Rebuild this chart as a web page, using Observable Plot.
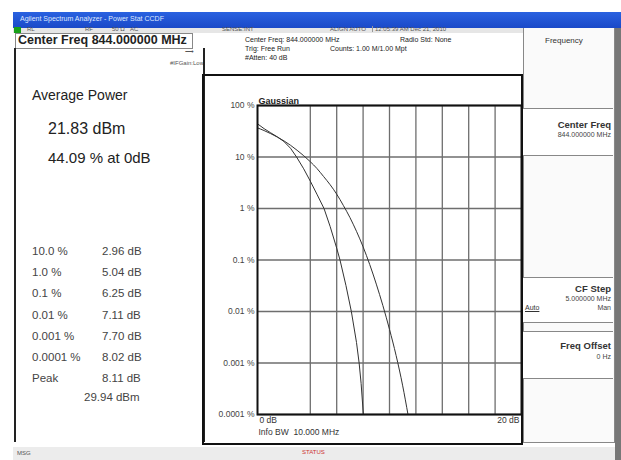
<!DOCTYPE html>
<html>
<head>
<meta charset="utf-8">
<script src="https://cdn.jsdelivr.net/npm/d3@7"></script>
<script src="https://cdn.jsdelivr.net/npm/@observablehq/plot@0.6"></script>
<style>
  html, body { margin: 0; padding: 0; background: #fff; }
  #root { position: relative; width: 621px; height: 460px; overflow: hidden; background: #fff;
          font-family: "Liberation Sans", Arial, sans-serif; color: #222; }
  .abs { position: absolute; white-space: nowrap; }
  .tiny { font-size: 6px; color: #555; }
  .info { font-size: 7px; color: #222; }
  .row { font-size: 11.5px; color: #444; }
  .key { position: absolute; left: 523px; width: 90px; border-top: 1px solid #888; border-bottom: 1px solid #888; background: #fff; }
  .keyT { position: absolute; right: 2px; font-size: 9.5px; font-weight: bold; color: #333; }
  .keyS { position: absolute; right: 2px; font-size: 7px; color: #444; }
</style>
</head>
<body>
<div id="root">
  <!-- title bar -->
  <div class="abs" style="left:13px;top:12px;width:608px;height:16px;background:linear-gradient(#2a62e0,#1a49c8);"></div>
  <div class="abs" style="left:20px;top:15px;font-size:7px;color:#dfe8ff;">Agilent Spectrum Analyzer - Power Stat CCDF</div>
  <!-- status row -->
  <div class="abs" style="left:13px;top:28px;width:510px;height:5px;background:#e6e6e6;"></div>
  <div class="abs" style="left:14px;top:27px;width:7px;height:6px;background:#18a018;"></div>
  <div class="abs tiny" style="left:27px;top:26px;">RL</div>
  <div class="abs tiny" style="left:85px;top:26px;">RF</div>
  <div class="abs tiny" style="left:112px;top:26px;">50 Ω</div>
  <div class="abs tiny" style="left:130px;top:26px;">AC</div>
  <div class="abs tiny" style="left:222px;top:26px;">SENSE:INT</div>
  <div class="abs tiny" style="left:330px;top:26px;">ALIGN AUTO</div>
  <div class="abs tiny" style="left:372px;top:26px;border-left:1px solid #999;padding-left:2px;">12:05:39 AM Dec 21, 2010</div>
  <!-- right dark strip -->
  <div class="abs" style="left:615px;top:28px;width:6px;height:432px;background:#777;"></div>
  <!-- center freq box -->
  <div class="abs" style="left:15px;top:33px;width:176px;height:14px;border:1px solid #888;background:#fff;"></div>
  <div class="abs" style="left:18px;top:33px;font-size:12.5px;font-weight:bold;color:#222;">Center Freq 844.000000 MHz</div>
  <div class="abs tiny" style="left:185px;top:48px;">⟶</div>
  <div class="abs tiny" style="left:170px;top:60px;">#IFGain:Low</div>
  <!-- measurement header -->
  <div class="abs info" style="left:245px;top:36px;">Center Freq: 844.000000 MHz</div>
  <div class="abs info" style="left:245px;top:45px;">Trig: Free Run</div>
  <div class="abs info" style="left:245px;top:54px;">#Atten: 40 dB</div>
  <div class="abs info" style="left:330px;top:45px;">Counts: 1.00 M/1.00 Mpt</div>
  <div class="abs info" style="left:400px;top:36px;">Radio Std: None</div>
  <!-- left panel -->
  <div class="abs" style="left:14px;top:48px;width:187px;height:394px;border-left:2px solid #222;border-right:2px solid #222;"></div>
  <div class="abs" style="left:32px;top:87px;font-size:14px;color:#222;">Average Power</div>
  <div class="abs" style="left:48px;top:120px;font-size:16px;color:#222;">21.83 dBm</div>
  <div class="abs" style="left:48px;top:149px;font-size:15px;color:#222;">44.09 % at 0dB</div>
  <div id="table"></div>
  <!-- chart box -->
  <div class="abs" style="left:202px;top:74px;width:317px;height:367px;border:2px solid #111;"></div>
  <div id="chart" class="abs" style="left:202px;top:74px;"></div>
  <!-- softkeys -->
  <div class="abs" style="left:523px;top:28px;width:90px;height:414px;border-left:1px solid #888;border-right:1px solid #888;background:#fafafa;"></div>
  <div class="abs" style="left:545px;top:36px;font-size:8px;color:#333;">Frequency</div>
  <div class="key" style="top:108px;height:46px;"><div class="keyT" style="top:10px;">Center Freq</div><div class="keyS" style="top:22px;">844.000000 MHz</div></div>
  <div class="key" style="top:277px;height:44px;"><div class="keyT" style="top:5px;">CF Step</div><div class="keyS" style="top:17px;">5.000000 MHz</div>
    <div class="abs" style="left:2px;top:26px;font-size:7px;color:#333;text-decoration:underline;">Auto</div><div class="keyS" style="top:26px;">Man</div></div>
  <div class="key" style="top:331px;height:46px;"><div class="keyT" style="top:8px;">Freq Offset</div><div class="keyS" style="top:21px;">0 Hz</div></div>
  <div class="abs" style="left:523px;top:442px;width:92px;height:0;border-top:1px solid #888;"></div>
  <!-- bottom status -->
  <div class="abs" style="left:13px;top:447px;width:602px;height:13px;background:#ececec;"></div>
  <div class="abs tiny" style="left:17px;top:450px;">MSG</div>
  <div class="abs" style="left:302px;top:449px;font-size:6px;color:#c33;">STATUS</div>
</div>
<script>
// ---- data ----
const yTicks = [100, 10, 1, 0.1, 0.01, 0.001, 0.0001];
const xGrid = [4, 6, 8, 10, 12, 14, 16, 18];
const xStartLabel = ["0 dB"];
const xEndLabel = ["20 dB"];

const gaussDb  = [0, 0.5, 1, 1.5, 2, 2.5, 3, 3.5, 4, 4.5, 5, 5.5, 6, 6.5, 7, 7.5, 8, 8.5, 9, 9.5, 10, 10.5, 11, 11.4];
const gaussPct = [36.8, 32.6, 28.4, 24.4, 20.6, 16.9, 13.5, 10.6, 8.1, 6.0, 4.2, 2.9, 1.9, 1.15, 0.67, 0.36, 0.18, 0.082, 0.034, 0.013, 0.0045, 0.0014, 0.00036, 0.0001];

const measDb  = [0, 0.5, 1, 1.5, 2, 2.5, 2.96, 3.5, 4, 4.5, 5.04, 5.5, 6.0, 6.25, 6.7, 7.11, 7.5, 7.70, 7.85, 8.02, 8.11, 20];
const measPct = [44.09, 35.5, 29.5, 24.6, 20.0, 14.8, 10, 5.9, 3.4, 1.9, 1.0, 0.45, 0.17, 0.1, 0.032, 0.01, 0.0025, 0.001, 0.0004, 0.0001, 0.0001, 0.0001];

const rowLabels = ["10.0 %", "1.0 %", "0.1 %", "0.01 %", "0.001 %", "0.0001 %", "Peak"];
const rowValues = ["2.96 dB", "5.04 dB", "6.25 dB", "7.11 dB", "7.70 dB", "8.02 dB", "8.11 dB"];
const peakDbm = "29.94 dBm";

// ---- left table ----
const tbl = document.getElementById("table");
const rowTop = [245, 266, 287, 309, 330, 351, 372];
rowLabels.forEach((l, i) => {
  const a = document.createElement("div"); a.className = "abs row"; a.style.left = "32px"; a.style.top = rowTop[i] + "px"; a.textContent = l; tbl.appendChild(a);
  const b = document.createElement("div"); b.className = "abs row"; b.style.left = "102px"; b.style.top = rowTop[i] + "px"; b.textContent = rowValues[i]; tbl.appendChild(b);
});
const pk = document.createElement("div"); pk.className = "abs row"; pk.style.left = "84px"; pk.style.top = "391px"; pk.textContent = peakDbm; tbl.appendChild(pk);

// ---- chart ----
const gauss = gaussDb.map((d, i) => ({x: d, y: gaussPct[i]}));
const meas = measDb.map((d, i) => ({x: d, y: measPct[i]}));

const chart = Plot.plot({
  width: 321, height: 371,
  marginLeft: 55, marginRight: 2, marginTop: 31, marginBottom: 31,
  x: {domain: [0, 20], axis: null},
  y: {type: "log", domain: [0.0001, 100], axis: null},
  style: {background: "transparent", fontFamily: "'Liberation Sans', Arial, sans-serif", overflow: "visible"},
  marks: [
    Plot.ruleX(xGrid, {stroke: "#6e6e6e", strokeWidth: 1.3}),
    Plot.ruleY(yTicks, {stroke: "#6e6e6e", strokeWidth: 1.3}),
    Plot.line(gauss, {x: "x", y: "y", stroke: "#333", strokeWidth: 1, curve: "monotone-x"}),
    Plot.line(meas, {x: "x", y: "y", stroke: "#333", strokeWidth: 1, curve: "linear"}),
    Plot.frame({stroke: "#111", strokeWidth: 2}),
    Plot.axisY({ticks: yTicks, tickFormat: d => d + " %", tickSize: 0, tickPadding: 3, fontSize: 8.5, fill: "#444", label: null}),
    Plot.text(xStartLabel, {frameAnchor: "bottom-left", text: d => d, dy: 8, dx: 2, fontSize: 8.5, fill: "#333"}),
    Plot.text(xEndLabel, {frameAnchor: "bottom-right", text: d => d, dy: 8, dx: -2, fontSize: 8.5, fill: "#333"}),
    Plot.text(["Info BW  10.000 MHz"], {frameAnchor: "bottom-left", text: d => d, dy: 20, dx: 1, fontSize: 8.5, fill: "#333"}),
    Plot.text(["Gaussian"], {frameAnchor: "top-left", text: d => d, dy: -8, dx: 1, fontSize: 9, fontWeight: "bold", fill: "#222"})
  ]
});
document.getElementById("chart").appendChild(chart);
</script>
</body>
</html>
